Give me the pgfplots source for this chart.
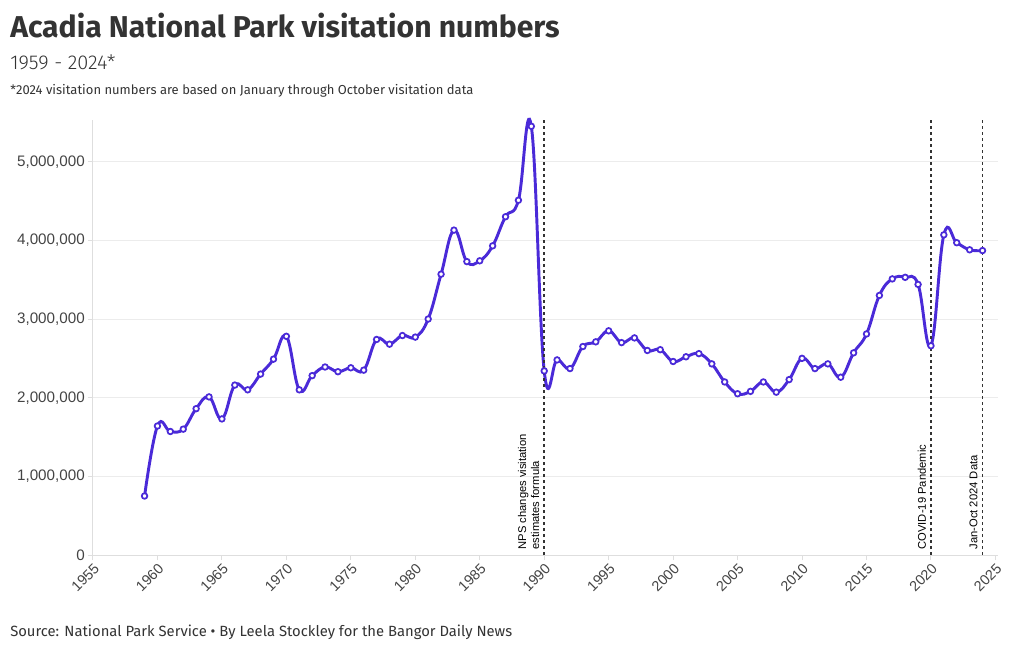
\documentclass[border=0pt]{standalone}
\usepackage{pgfplots}
\pgfplotsset{compat=1.18}
\usepackage{fontspec}
\setmainfont{Fira Sans}
\newfontfamily\tickfont{Liberation Sans}
\definecolor{linec}{RGB}{74,42,216}
\definecolor{txt}{RGB}{51,51,51}
\definecolor{tick}{RGB}{68,68,68}
\definecolor{grid}{RGB}{236,236,236}
\definecolor{axl}{RGB}{222,222,222}
\begin{document}
\begin{tikzpicture}[x=0.75pt,y=0.75pt]
\path (0,0) rectangle (1020,650);
\node[anchor=base west, inner sep=0pt, text=txt, font=\fontsize{22.6}{26}\selectfont\bfseries] at (10,612) {Acadia National Park visitation numbers};
\node[anchor=base west, inner sep=0pt, text=txt, font=\fontsize{15}{18}\selectfont\fontspec{Fira Sans Light}] at (10,580) {1959 - 2024*};
\node[anchor=base west, inner sep=0pt, text=txt, font=\fontsize{9.75}{12}\selectfont] at (10,555) {*2024 visitation numbers are based on January through October visitation data};
\node[anchor=base west, inner sep=0pt, text=txt, font=\fontsize{11.1}{13}\selectfont] at (10,14) {Source: National Park Service • By Leela Stockley for the Bangor Daily News};
\begin{axis}[
  at={(69.75pt,71.25pt)}, anchor=south west,
  scale only axis, width=678.75pt, height=326.25pt,
  xmin=1955, xmax=2025.2, ymin=0, ymax=5530000,
  clip=false,
  axis x line*=bottom, axis y line*=left,
  axis line style={-, draw=axl, line width=0.75pt},
  xtick={1955,1960,...,2025},
  ytick={0,1000000,2000000,3000000,4000000,5000000},
  scaled y ticks=false,
  tick align=outside,
  major tick length=4pt,
  tick style={draw=axl, line width=0.75pt},
  ymajorgrids, grid style={draw=grid, line width=0.75pt},
  /pgf/number format/assume math mode=true,
  xticklabel style={/pgf/number format/1000 sep={}, rotate=45, anchor=north east, inner sep=1pt, font=\tickfont\fontsize{10.8}{12}\selectfont, text=tick},
  yticklabel style={/pgf/number format/fixed, /pgf/number format/1000 sep={,}, font=\tickfont\fontsize{11.4}{13}\selectfont, text=tick, inner sep=2pt},
]
\addplot[color=linec, line width=2.2pt, smooth, tension=0.7,
  mark=*, mark size=2.1pt, mark options={fill=white, draw=linec, line width=1.3pt}]
coordinates {
(1959,750000)(1960,1640000)(1961,1570000)(1962,1600000)(1963,1860000)(1964,2010000)
(1965,1730000)(1966,2160000)(1967,2100000)(1968,2300000)(1969,2490000)(1970,2780000)
(1971,2100000)(1972,2280000)(1973,2390000)(1974,2330000)(1975,2380000)(1976,2350000)
(1977,2740000)(1978,2680000)(1979,2790000)(1980,2770000)(1981,3000000)(1982,3570000)
(1983,4130000)(1984,3730000)(1985,3740000)(1986,3930000)(1987,4300000)(1988,4510000)
(1989,5450000)(1990,2340000)(1991,2480000)(1992,2370000)(1993,2650000)(1994,2710000)
(1995,2850000)(1996,2700000)(1997,2760000)(1998,2600000)(1999,2610000)(2000,2460000)
(2001,2520000)(2002,2560000)(2003,2430000)(2004,2200000)(2005,2050000)(2006,2080000)
(2007,2200000)(2008,2070000)(2009,2230000)(2010,2500000)(2011,2370000)(2012,2430000)
(2013,2260000)(2014,2570000)(2015,2810000)(2016,3300000)(2017,3510000)(2018,3530000)
(2019,3440000)(2020,2660000)(2021,4070000)(2022,3970000)(2023,3880000)(2024,3870000)
};
\foreach \yr in {1990,2020,2024}{
  \edef\tmp{\noexpand\draw[draw=txt, line width=1.2pt, dash pattern=on 2.25pt off 2.25pt] (axis cs:\yr,0) -- (axis cs:\yr,5530000);}
  \tmp
}
\node[rotate=90, anchor=south west, align=left, inner sep=0pt, text=black, font=\tickfont\fontsize{8.4}{9.8}\selectfont] at ([xshift=-3.5pt,yshift=4pt]axis cs:1990,0) {NPS changes visitation\\estimates formula};
\node[rotate=90, anchor=south west, inner sep=0pt, text=black, font=\tickfont\fontsize{8.4}{9.8}\selectfont] at ([xshift=-3.5pt,yshift=4pt]axis cs:2020,0) {COVID-19 Pandemic};
\node[rotate=90, anchor=south west, inner sep=0pt, text=black, font=\tickfont\fontsize{8.4}{9.8}\selectfont] at ([xshift=-3.5pt,yshift=4pt]axis cs:2024,0) {Jan-Oct 2024 Data};
\end{axis}
\end{tikzpicture}
\end{document}
